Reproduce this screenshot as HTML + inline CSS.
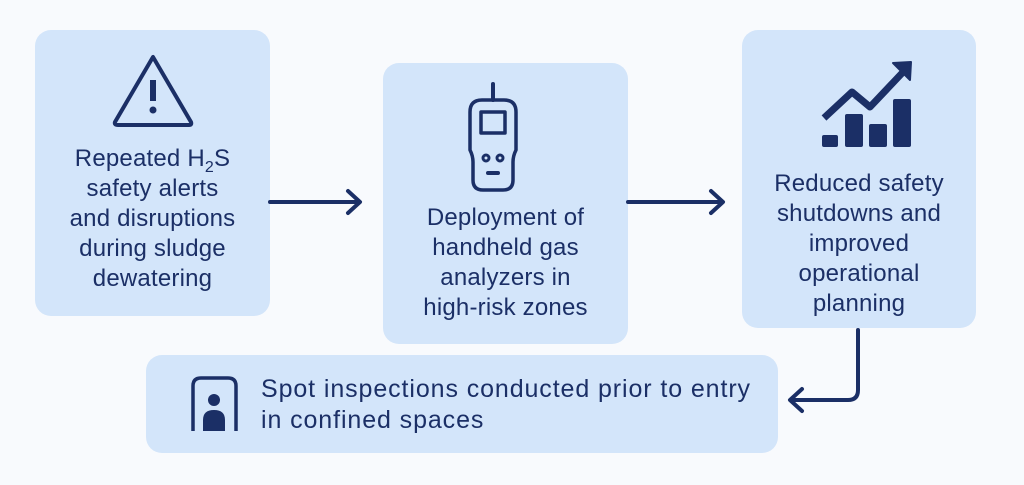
<!DOCTYPE html>
<html><head><style>
body{margin:0;width:1024px;height:485px;background:#f8fafd;position:relative;overflow:hidden;font-family:"Liberation Sans",sans-serif;color:#1b2f66}
.b{position:absolute;background:#d3e5fa;border-radius:16px}
.t{position:absolute;text-align:center;font-size:24px;line-height:30px;left:-10px;right:-10px;letter-spacing:0.2px}
svg{position:absolute;left:0;top:0}
</style></head><body>
<div class="b" style="left:35px;top:30px;width:235px;height:286px"><div class="t" style="top:114px">Repeated H<sub style="font-size:16px;line-height:0">2</sub>S<br>safety alerts<br>and disruptions<br>during sludge<br>dewatering</div></div>
<div class="b" style="left:383px;top:63px;width:245px;height:281px"><div class="t" style="top:140px">Deployment of<br>handheld gas<br>analyzers in<br>high-risk zones</div></div>
<div class="b" style="left:742px;top:30px;width:234px;height:298px"><div class="t" style="top:139px">Reduced safety<br>shutdowns and<br>improved<br>operational<br>planning</div></div>
<div class="b" style="left:146px;top:355px;width:632px;height:98px"><div class="t" style="top:19px;left:115px;right:-40px;text-align:left;font-size:25px;line-height:31px;letter-spacing:0.9px">Spot inspections conducted prior to entry<br>in confined spaces</div></div>
<svg width="1024" height="485" fill="none" stroke="#1b2f66" stroke-width="4" stroke-linecap="round" stroke-linejoin="round">
<path d="M153 57 L115 122 Q114 125 118 125 L189 125 Q192 125 191 122 Z" stroke-width="4"/>
<line x1="153" y1="80" x2="153" y2="101" stroke-width="6" stroke-linecap="butt"/>
<circle cx="153" cy="110" r="3.5" fill="#1b2f66" stroke="none"/>
<line x1="270" y1="202" x2="358" y2="202"/><path d="M348 191 L360 202 L348 213"/>
<line x1="628" y1="202" x2="721" y2="202"/><path d="M711 191 L723 202 L711 213"/>
<path d="M858 330 L858 390 Q858 400 848 400 L792 400"/><path d="M802 389 L790 400 L802 411"/>
<line x1="493" y1="84" x2="493" y2="100"/>
<path d="M470 112 Q470 100 482 100 L504 100 Q516 100 516 112 L516 150 Q513 156 513 162 L513 180 Q513 190 503 190 L483 190 Q473 190 473 180 L473 162 Q473 156 470 150 Z" stroke-width="3.5"/>
<rect x="481" y="112" width="24" height="21" stroke-width="3.5"/>
<circle cx="486" cy="158" r="3" stroke-width="3"/><circle cx="500" cy="158" r="3" stroke-width="3"/>
<line x1="488" y1="173" x2="498" y2="173"/>
<path d="M824 118 L852 92 L870 107 L905 70" stroke-width="7" stroke-linecap="butt"/>
<path d="M893 63 L911 62 L910 80 Z" fill="#1b2f66" stroke-width="2"/>
<g fill="#1b2f66" stroke="none"><rect x="822" y="135" width="16" height="12" rx="2"/><rect x="845" y="114" width="18" height="33" rx="2"/><rect x="869" y="124" width="18" height="23" rx="2"/><rect x="893" y="99" width="18" height="48" rx="2"/></g>
<path d="M193 431 L193 386 Q193 378 201 378 L228 378 Q236 378 236 386 L236 431" stroke-width="3.5" stroke-linecap="butt"/>
<circle cx="214" cy="400" r="6" fill="#1b2f66" stroke="none"/>
<path d="M203 431 L203 420 Q203 410 214 410 Q225 410 225 420 L225 431 Z" fill="#1b2f66" stroke="none"/>
</svg>
</body></html>
